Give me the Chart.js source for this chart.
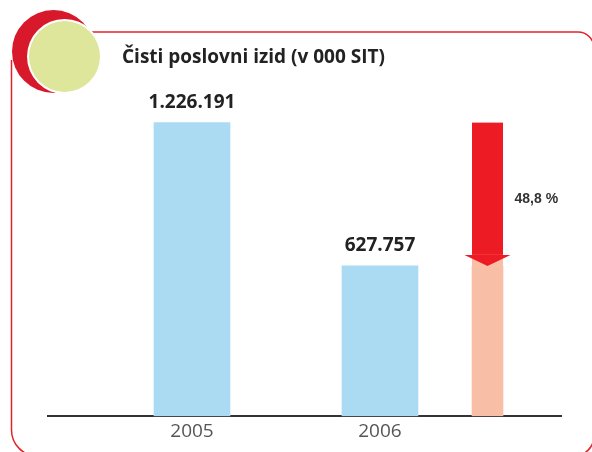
<!DOCTYPE html>
<html>
<head>
<meta charset="utf-8">
<script src="https://cdn.jsdelivr.net/npm/chart.js@4"></script>
<style>
  html, body { margin: 0; padding: 0; background: #fff; }
  #wrap { width: 592px; height: 452px; position: relative; }
</style>
</head>
<body>
<div id="wrap"><canvas id="myChart" width="592" height="452"></canvas></div>
<script>
// chart data
const years = ['2005', '2006'];
const income = [1226191, 627757];
const titleText = 'Čisti poslovni izid (v 000 SIT)';

const blue = '#abdbf3';
const salmon = '#f9bfa6';
const red = '#ed1c24';

function fmtThousands(v) {
  return String(v).replace(/\B(?=(\d{3})+(?!\d))/g, '.');
}

// drop from 2005 to 2006 in percent, written the Slovenian way
const dropPct = ((1 - income[1] / income[0]) * 100).toFixed(1).replace('.', ',') + ' %';

// frame, logo circle and title
const framePlugin = {
  id: 'frame',
  beforeDraw(chart) {
    const ctx = chart.ctx;
    ctx.save();
    ctx.strokeStyle = '#e2232b';
    ctx.lineWidth = 1.5;
    ctx.beginPath();
    ctx.moveTo(60, 32);
    ctx.lineTo(578, 32);
    ctx.arcTo(594, 32, 594, 48, 16);
    ctx.lineTo(594, 436);
    ctx.arcTo(594, 456, 574, 456, 20);
    ctx.lineTo(37, 456);
    ctx.arcTo(11.5, 456, 11.5, 430, 26);
    ctx.lineTo(11.5, 60);
    ctx.stroke();

    // logo
    ctx.fillStyle = '#d8192b';
    ctx.beginPath();
    ctx.arc(53.5, 51.5, 41.5, 0, Math.PI * 2);
    ctx.fill();
    ctx.fillStyle = '#fff';
    ctx.beginPath();
    ctx.arc(64.5, 56.5, 37.5, 0, Math.PI * 2);
    ctx.fill();
    ctx.fillStyle = '#dde69b';
    ctx.beginPath();
    ctx.arc(64.5, 56.5, 35.5, 0, Math.PI * 2);
    ctx.fill();

    ctx.fillStyle = '#222';
    ctx.font = 'bold 19px "Open Sans", sans-serif';
    ctx.textBaseline = 'alphabetic';
    ctx.textAlign = 'left';
    ctx.fillText(titleText, 122, 63, 263);
    ctx.restore();
  },
  afterDatasetsDraw(chart) {
    const ctx = chart.ctx;
    const yScale = chart.scales.y;
    ctx.save();

    // value labels over the blue bars
    ctx.fillStyle = '#222';
    ctx.font = 'bold 19px "Open Sans", sans-serif';
    ctx.textAlign = 'center';
    ctx.textBaseline = 'alphabetic';
    chart.getDatasetMeta(0).data.forEach((bar, i) => {
      ctx.fillText(fmtThousands(income[i]), bar.x, bar.y - 15);
    });

    // the arrow for the drop
    const cx = chart.scales.x2.getPixelForValue(1);
    const top = yScale.getPixelForValue(income[0]);
    const tip = yScale.getPixelForValue(income[1]);
    const half = 15.5, headHalf = 23, headLen = 11;
    ctx.fillStyle = salmon;
    ctx.fillRect(cx - half, tip - headLen, half * 2, headLen);
    ctx.fillStyle = red;
    ctx.fillRect(cx - half, top, half * 2, tip - headLen - top);
    ctx.beginPath();
    ctx.moveTo(cx - headHalf, tip - headLen);
    ctx.lineTo(cx + headHalf, tip - headLen);
    ctx.lineTo(cx, tip);
    ctx.closePath();
    ctx.fill();

    ctx.fillStyle = '#333';
    ctx.font = 'bold 14px "Liberation Sans", Arial, sans-serif';
    ctx.textAlign = 'left';
    ctx.textBaseline = 'middle';
    ctx.fillText(dropPct, cx + 27, (top + tip) / 2 + 5);
    ctx.restore();
  }
};

var ctx = document.getElementById('myChart').getContext('2d');
var chart = new Chart(ctx, {
  type: 'bar',
  data: {
    datasets: [{
      data: income.map((v, i) => ({ x: i, y: v })),
      backgroundColor: blue,
      barThickness: 76,
      grouped: false,
      xAxisID: 'x'
    }, {
      // 2006 column under the arrow
      data: [{ x: 1, y: income[1] }],
      backgroundColor: salmon,
      barThickness: 31,
      grouped: false,
      xAxisID: 'x2'
    }]
  },
  options: {
    responsive: false,
    animation: false,
    layout: { padding: { left: 48, right: 31, top: 81, bottom: 5 } },
    plugins: {
      legend: { display: false },
      title: { display: false },
      tooltip: { enabled: false }
    },
    scales: {
      x: {
        type: 'linear',
        min: -0.766,
        max: 1.963,
        offset: false,
        grid: { display: false, drawTicks: false, offset: false },
        border: { color: '#333', width: 2 },
        afterBuildTicks: scale => { scale.ticks = years.map((_, i) => ({ value: i })); },
        ticks: {
          autoSkip: false,
          maxRotation: 0,
          padding: 4,
          color: '#555',
          font: { family: '"Open Sans", sans-serif', size: 19 },
          callback: v => years[v] || ''
        }
      },
      x2: {
        type: 'linear',
        display: false,
        min: -1.338,
        max: 1.391,
        offset: false
      },
      y: {
        display: false,
        min: 0,
        max: 1400000
      }
    }
  },
  plugins: [framePlugin]
});
</script>
</body>
</html>
